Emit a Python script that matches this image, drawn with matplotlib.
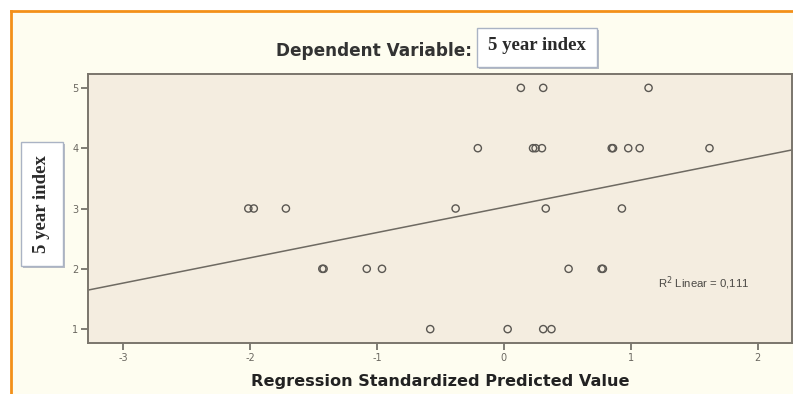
import matplotlib
matplotlib.use('Agg')

import matplotlib.pyplot as plt
from matplotlib.patches import Rectangle
from matplotlib.lines import Line2D

# data
pred_5 = [0.134, 0.31, 1.14]
pred_4 = [-0.205, 0.23, 0.25, 0.30, 0.85, 0.86, 0.98, 1.07, 1.62]
pred_3 = [-2.013, -1.97, -1.717, -0.38, 0.33, 0.93]
pred_2 = [-1.43, -1.42, -1.08, -0.96, 0.51, 0.77, 0.78]
pred_1 = [-0.58, 0.03, 0.31, 0.375]
index_levels = [5, 4, 3, 2, 1]

fit_intercept = 3.02
fit_slope = 0.419
r2_text = 'R$^2$ Linear = 0,111'

x_ticks = [-3, -2, -1, 0, 1, 2]
y_ticks = [1, 2, 3, 4, 5]

W, H = 793, 394
fig = plt.figure(figsize=(W / 100, H / 100), dpi=100)
fig.patch.set_facecolor('white')

# cream panel with orange frame
fig.add_artist(Rectangle((10.5 / W, 0), 1, (H - 11) / H, transform=fig.transFigure,
                         facecolor='#fefdf0', edgecolor='none', zorder=0))
fig.add_artist(Line2D([10.5 / W, 10.5 / W], [0.5 / H, (H - 11) / H], transform=fig.transFigure,
                      color='#f39019', lw=2, zorder=1))
fig.add_artist(Line2D([10.5 / W, 1], [(H - 11) / H, (H - 11) / H], transform=fig.transFigure,
                      color='#f39019', lw=2, zorder=1))

ax = fig.add_axes([88 / W, 1 - 343 / H, (792 - 88) / W, (343 - 74) / H])
ax.set_facecolor('#f4ede0')

groups = [pred_5, pred_4, pred_3, pred_2, pred_1]
for lvl, xs in zip(index_levels, groups):
    ax.scatter(xs, [lvl] * len(xs), s=27, facecolors='none', edgecolors='#5a5752', linewidths=1.0, zorder=3)

ax.axline((0, fit_intercept), slope=fit_slope, color='#6e6a62', lw=1.1, zorder=2)

ax.set_xlim(-3.276, 2.27)
ax.set_ylim(0.77, 5.23)
ax.set_xticks(x_ticks)
ax.set_yticks(y_ticks)
ax.set_xticklabels([str(t) for t in x_ticks])
ax.set_yticklabels([str(t) for t in y_ticks])

for s in ax.spines.values():
    s.set_color('#7a756c')
    s.set_linewidth(1.4)
ax.tick_params(axis='both', colors='#6a6760', labelsize=7, length=5, width=1.2, pad=2)

ax.text(0.875, 0.223, r2_text, transform=ax.transAxes, ha='center', va='center',
        fontsize=8.2, color='#4a4844', family='Liberation Sans')

ax.set_xlabel('Regression Standardized Predicted Value', fontsize=11.6, fontweight='bold',
              color='#222222', labelpad=8)

# title pieces
fig.text(472 / W, 1 - 51 / H, 'Dependent Variable:', ha='right', va='center',
         fontsize=12.2, fontweight='bold', color='#333333', family='DejaVu Sans')

def box(x0, y0, x1, y1):
    fig.add_artist(Rectangle(((x0 + 2) / W, 1 - (y1 + 2) / H), (x1 - x0) / W, (y1 - y0) / H,
                             transform=fig.transFigure, facecolor='#b8bcc4', edgecolor='none', zorder=4))
    fig.add_artist(Rectangle((x0 / W, 1 - y1 / H), (x1 - x0) / W, (y1 - y0) / H,
                             transform=fig.transFigure, facecolor='white', edgecolor='#aab3c4',
                             lw=1.0, zorder=5))

box(477, 28, 597, 67)
fig.text(537 / W, 1 - 45 / H, '5 year index', ha='center', va='center', fontsize=13.5,
         fontweight='bold', color='#2a2a2a', family='Liberation Serif', zorder=6)

box(21, 142, 63, 266)
fig.text(42 / W, 1 - 204 / H, '5 year index', ha='center', va='center', fontsize=13.5,
         fontweight='bold', color='#2a2a2a', family='Liberation Serif', rotation=90, zorder=6)

fig.savefig('out.png', dpi=100, facecolor=fig.get_facecolor())
